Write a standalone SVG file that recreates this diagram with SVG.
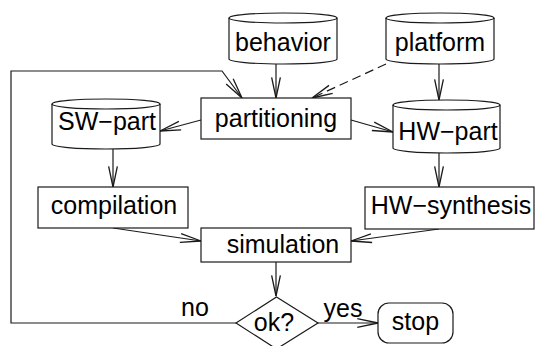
<svg xmlns="http://www.w3.org/2000/svg" width="537" height="346" viewBox="0 0 537 346">
<style>
.s{fill:#fff;stroke:#1a1a1a;stroke-width:1.2}
.c{fill:none;stroke:#1a1a1a;stroke-width:1.2}
text{font-family:"Liberation Sans",Arial,sans-serif;font-size:25px;fill:#000}
.m{text-anchor:middle}
</style>
<defs>
<marker id="a" markerUnits="userSpaceOnUse" markerWidth="24" markerHeight="12" viewBox="-21 -5 22 10" refX="0" refY="0" orient="auto" overflow="visible">
<path d="M-19,-4 L0,0 L-19,4" fill="none" stroke="#1a1a1a" stroke-width="1.2"/>
</marker>
</defs>
<g id="connectors">
<path class="c" d="M276,64 L276,98" marker-end="url(#a)"/>
<path class="c" d="M439,64 L439,100" marker-end="url(#a)"/>
<path class="c" d="M386,64 L312,98" stroke-dasharray="9,5" marker-end="url(#a)"/>
<path class="c" d="M351,120 L393,132" marker-end="url(#a)"/>
<path class="c" d="M201,120 L160,131" marker-end="url(#a)"/>
<path class="c" d="M113,149 L113,187" marker-end="url(#a)"/>
<path class="c" d="M439,153 L439,187" marker-end="url(#a)"/>
<path class="c" d="M113,228 L201,241" marker-end="url(#a)"/>
<path class="c" d="M439,229 L351,241" marker-end="url(#a)"/>
<path class="c" d="M276,262 L276,296" marker-end="url(#a)"/>
<path class="c" d="M317,323 L378,323" marker-end="url(#a)"/>
<path class="c" d="M236,323 L11,323 L11,71 L222,71 L242,98" marker-end="url(#a)"/>
<text x="195" y="316" class="m">no</text>
<text x="343" y="317" class="m">yes</text>
</g>
<g id="behavior">
<path class="s" d="M229,18 L229,59 A54,5 0 0 0 337,59 L337,18 A54,5 0 0 0 229,18 Z"/>
<path class="c" d="M229,18 A54,5 0 0 0 337,18"/>
<text x="283" y="51" class="m">behavior</text>
</g>
<g id="platform">
<path class="s" d="M386,18 L386,59 A54,5 0 0 0 494,59 L494,18 A54,5 0 0 0 386,18 Z"/>
<path class="c" d="M386,18 A54,5 0 0 0 494,18"/>
<text x="440" y="51" class="m">platform</text>
</g>
<g id="partitioning">
<rect class="s" x="201" y="98" width="150" height="41"/>
<text x="276" y="127" class="m">partitioning</text>
</g>
<g id="sw-part">
<path class="s" d="M52,104 L52,144 A54,5 0 0 0 160,144 L160,104 A54,5 0 0 0 52,104 Z"/>
<path class="c" d="M52,104 A54,5 0 0 0 160,104"/>
<text x="107" y="130" class="m">SW−part</text>
</g>
<g id="hw-part">
<path class="s" d="M393,105 L393,148 A53.5,5 0 0 0 500,148 L500,105 A53.5,5 0 0 0 393,105 Z"/>
<path class="c" d="M393,105 A53.5,5 0 0 0 500,105"/>
<text x="448" y="140" class="m">HW−part</text>
</g>
<g id="compilation">
<rect class="s" x="38" y="187" width="150" height="41"/>
<text x="114" y="214" class="m">compilation</text>
</g>
<g id="hw-synthesis">
<rect class="s" x="365" y="187" width="169" height="42"/>
<text x="451" y="214" class="m">HW−synthesis</text>
</g>
<g id="simulation">
<rect class="s" x="201" y="228" width="150" height="34"/>
<text x="283" y="253" class="m">simulation</text>
</g>
<g id="ok">
<path class="s" d="M276.5,297 L318,323 L276.5,349 L236,323 Z"/>
<text x="274" y="331" class="m">ok?</text>
</g>
<g id="stop">
<rect class="s" x="378" y="303" width="75" height="40" rx="11" ry="11"/>
<text x="415.5" y="330" class="m">stop</text>
</g>
</svg>
